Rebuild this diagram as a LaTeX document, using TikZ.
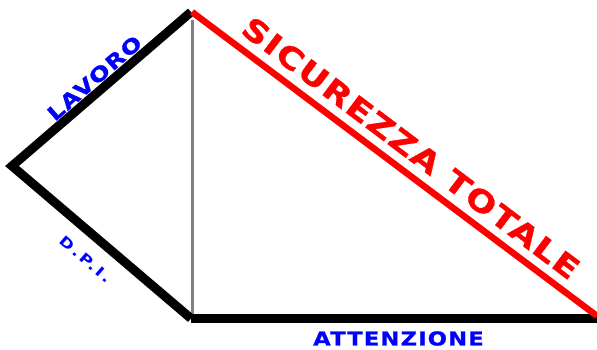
\documentclass[tikz,border=0pt]{standalone}
\usepackage{fontspec}
\setmainfont{DejaVu Sans}
\newfontfamily\lavorofont{DejaVu Sans}[FakeStretch=1.22, LetterSpace=6, FakeBold=1]
\newfontfamily\dpifont{DejaVu Sans}[FakeStretch=1.25, LetterSpace=18]
\newfontfamily\totalefont{DejaVu Sans}[FakeStretch=1.2, LetterSpace=5, FakeBold=1]
\newfontfamily\attenzionefont{DejaVu Sans}[FakeStretch=1.18, LetterSpace=6, FakeBold=1]
\definecolor{labelblue}{RGB}{0,0,255}
\definecolor{totalred}{RGB}{255,0,0}
\definecolor{axisgray}{RGB}{128,128,128}

\begin{document}
\begin{tikzpicture}[x=1pt, y=1pt, every node/.style={inner sep=0pt},
    side/.style={line width=9pt, line join=miter},
    bluelabel/.style={text=labelblue}]
  \useasboundingbox (0,0) rectangle (597,349);

  \coordinate (vtop) at (191,337);
  \coordinate (vleft) at (12,183);
  \coordinate (vfoot) at (191,30.5);
  \coordinate (vright) at (597,30.5);
  \coordinate (gtop) at (192.5,329);
  \coordinate (gfoot) at (192.5,34);
  \coordinate (rtop) at (192,337);
  \coordinate (rend) at (597,33);

  \draw[axisgray, line width=3pt] (gtop) -- (gfoot);
  \draw[side] (vtop) -- (vleft) -- (vfoot);
  \draw[side] (vfoot) -- (vright);
  \draw[totalred, line width=6.5pt] (rtop) -- (rend);

  \node[bluelabel, rotate=41] (lavoro) at (94.5,271)
    {\lavorofont\bfseries\fontsize{20}{24}\selectfont LAVORO};
  \node[bluelabel, rotate=-41] (dpi) at (86,90)
    {\dpifont\bfseries\fontsize{14}{16}\selectfont D.P.I.};
  \node[text=totalred, rotate=-37] (sicurezza) at (411,201)
    {\totalefont\bfseries\fontsize{30}{36}\selectfont SICUREZZA TOTALE};
  \node[bluelabel] (attenzione) at (398.5,10.5)
    {\attenzionefont\bfseries\fontsize{19.2}{23}\selectfont ATTENZIONE};
\end{tikzpicture}
\end{document}
